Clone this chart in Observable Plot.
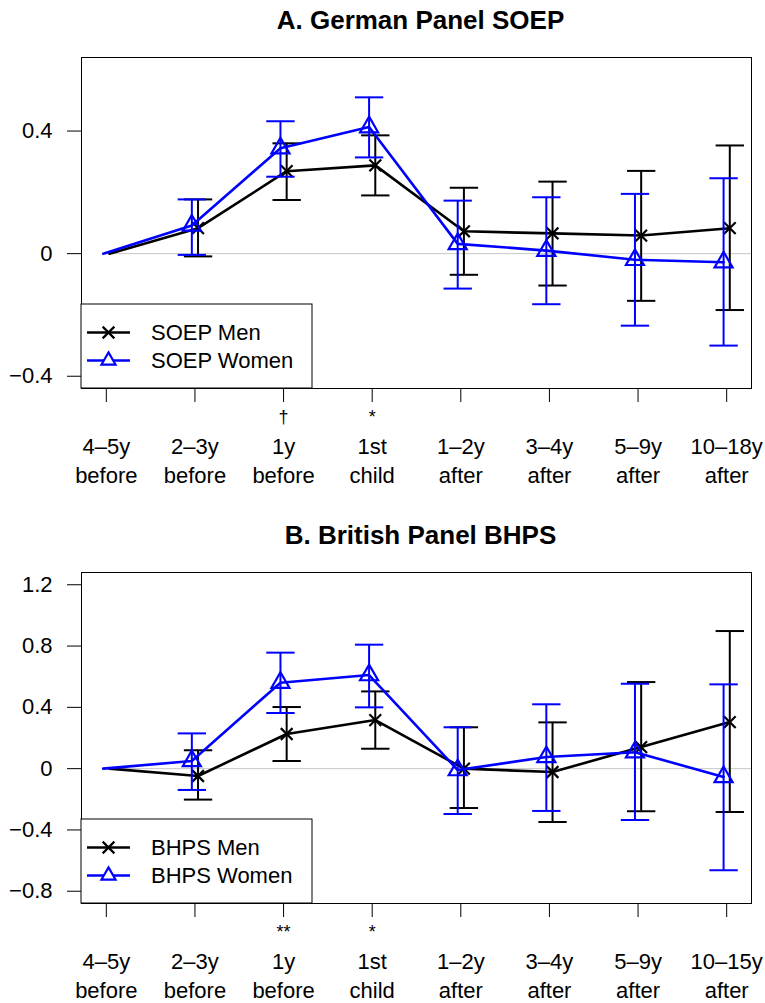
<!DOCTYPE html>
<html><head><meta charset="utf-8">
<script src="https://cdn.jsdelivr.net/npm/d3@7"></script>
<script src="https://cdn.jsdelivr.net/npm/@observablehq/plot@0.6"></script>
<style>body{margin:0;background:#fff} svg{display:block}</style>
</head><body><div id="chart"></div>
<script>
// Categories
const xPositions = [1, 2, 3, 4, 5, 6, 7, 8];
const labelsTopA = ["4–5y", "2–3y", "1y", "1st", "1–2y", "3–4y", "5–9y", "10–18y"];
const labelsTopB = ["4–5y", "2–3y", "1y", "1st", "1–2y", "3–4y", "5–9y", "10–15y"];
const labelsBottom = ["before", "before", "before", "child", "after", "after", "after", "after"];
const sigA = ["", "", "†", "*", "", "", "", ""];
const sigB = ["", "", "**", "*", "", "", "", ""];

// Panel A: SOEP
const soepMen    = [0, 0.083, 0.269, 0.288, 0.073, 0.066, 0.059, 0.083];
const soepMenLo  = [null, -0.009, 0.175, 0.190, -0.069, -0.104, -0.154, -0.184];
const soepMenHi  = [null, 0.177, 0.360, 0.386, 0.215, 0.235, 0.270, 0.353];
const soepWomen   = [0, 0.092, 0.344, 0.413, 0.032, 0.010, -0.020, -0.028];
const soepWomenLo = [null, -0.004, 0.251, 0.314, -0.114, -0.165, -0.235, -0.300];
const soepWomenHi = [null, 0.177, 0.432, 0.510, 0.173, 0.184, 0.195, 0.246];

// Panel B: BHPS
const bhpsMen    = [0, -0.048, 0.226, 0.317, 0.000, -0.022, 0.141, 0.304];
const bhpsMenLo  = [null, -0.202, 0.050, 0.130, -0.257, -0.348, -0.278, -0.283];
const bhpsMenHi  = [null, 0.120, 0.402, 0.504, 0.270, 0.302, 0.565, 0.898];
const bhpsWomen   = [0, 0.050, 0.561, 0.611, -0.009, 0.076, 0.107, -0.054];
const bhpsWomenLo = [null, -0.139, 0.363, 0.400, -0.296, -0.276, -0.335, -0.663];
const bhpsWomenHi = [null, 0.230, 0.757, 0.809, 0.270, 0.420, 0.554, 0.550];

const yTicksA = [-0.4, 0, 0.4];
const yTicksB = [-0.8, -0.4, 0, 0.4, 0.8, 1.2];

const FONT = "'Liberation Sans', Arial, Helvetica, sans-serif";
const BLUE = "#0000ff";
const xDomain = [0.72, 8.28];
const fmt = d => d === 0 ? "0" : d3.format(".1f")(d);

function panel(o) {
  const rows = (vals, lo, hi, off) => xPositions.map((x, i) => ({x: x + off, y: vals[i], lo: lo[i], hi: hi[i]}));
  const M = rows(o.men, o.menLo, o.menHi, 0.035);
  const W = rows(o.women, o.womenLo, o.womenHi, -0.035);
  const bars = d => d.filter(r => r.lo != null);
  const cap = 0.16;
  const seriesMarks = (D, color, symbol, r) => [
    Plot.ruleX(bars(D), {x: "x", y1: "lo", y2: "hi", stroke: color, strokeWidth: 2}),
    Plot.link(bars(D), {x1: d => d.x - cap, x2: d => d.x + cap, y1: "hi", y2: "hi", stroke: color, strokeWidth: 2}),
    Plot.link(bars(D), {x1: d => d.x - cap, x2: d => d.x + cap, y1: "lo", y2: "lo", stroke: color, strokeWidth: 2}),
    Plot.line(D, {x: "x", y: "y", stroke: color, strokeWidth: 2.6}),
    Plot.dot(D.slice(1), {x: "x", y: "y", symbol: symbol, r: r, stroke: color, strokeWidth: 2.2, fill: "none"})
  ];
  const svg = Plot.plot({
    width: 765,
    height: o.height,
    marginLeft: 81,
    marginRight: 14,
    marginTop: 57,
    marginBottom: o.marginBottom,
    style: {fontFamily: FONT, fontSize: "22px", color: "black", background: "white"},
    x: {domain: xDomain, axis: null},
    y: {domain: o.yDomain, axis: null},
    marks: [
      Plot.ruleY([0], {x1: xPositions[0], x2: xDomain[1], stroke: "#c8c8c8", strokeWidth: 1}),
      ...seriesMarks(M, "black", "times", 5.4),
      ...seriesMarks(W, BLUE, "triangle", 6.7),
      Plot.frame({stroke: "black", strokeWidth: 1}),
      Plot.axisY({ticks: o.yTicks, tickSize: 14, tickPadding: 15, tickFormat: fmt, fontSize: 22, label: null}),
      Plot.axisX({ticks: xPositions, tickSize: 14, tickFormat: () => "", label: null}),
      Plot.text(xPositions, {x: d => d, text: (d, i) => o.sig[i], frameAnchor: "bottom", dy: 34, lineAnchor: "bottom", fontSize: 18}),
      Plot.text(xPositions, {x: d => d, text: (d, i) => o.labelsTop[i], frameAnchor: "bottom", dy: 65, lineAnchor: "bottom", fontSize: 22}),
      Plot.text(xPositions, {x: d => d, text: (d, i) => labelsBottom[i], frameAnchor: "bottom", dy: 94, lineAnchor: "bottom", fontSize: 22}),
      Plot.text([o.title], {text: d => d, frameAnchor: "top", dx: 4, dy: -29, lineAnchor: "bottom", fontSize: 26, fontWeight: "bold"})
    ]
  });
  // Legend box (bottom-left inside the plot)
  const s = d3.select(svg);
  const g = s.append("g").attr("font-family", FONT).attr("font-size", 22).attr("text-anchor", "start");
  g.append("rect").attr("x", 81).attr("y", 304).attr("width", 231).attr("height", 84)
    .attr("fill", "white").attr("stroke", "black").attr("stroke-width", 1);
  const entries = [
    {name: o.menName, color: "black", sym: d3.symbolTimes, r: 5.4, y: 332.5, ty: 340},
    {name: o.womenName, color: BLUE, sym: d3.symbolTriangle2, r: 6.7, y: 360.5, ty: 368}
  ];
  for (const e of entries) {
    g.append("line").attr("x1", 87).attr("x2", 130).attr("y1", e.y).attr("y2", e.y)
      .attr("stroke", e.color).attr("stroke-width", 2.6);
    g.append("path").attr("d", d3.symbol(e.sym, e.r * e.r * Math.PI)())
      .attr("transform", `translate(108.5,${e.y})`)
      .attr("fill", e.color === BLUE ? "white" : "none").attr("stroke", e.color).attr("stroke-width", 2.2);
    g.append("text").attr("x", 151).attr("y", e.ty).attr("fill", "black").attr("text-anchor", "start").text(e.name);
  }
  return svg;
}

const chart = document.getElementById("chart");
chart.appendChild(panel({
  title: "A. German Panel SOEP", labelsTop: labelsTopA, sig: sigA,
  men: soepMen, menLo: soepMenLo, menHi: soepMenHi,
  women: soepWomen, womenLo: soepWomenLo, womenHi: soepWomenHi,
  yDomain: [-0.44, 0.64], yTicks: yTicksA, menName: "SOEP Men", womenName: "SOEP Women",
  height: 515, marginBottom: 127
}));
chart.appendChild(panel({
  title: "B. British Panel BHPS", labelsTop: labelsTopB, sig: sigB,
  men: bhpsMen, menLo: bhpsMenLo, menHi: bhpsMenHi,
  women: bhpsWomen, womenLo: bhpsWomenLo, womenHi: bhpsWomenHi,
  yDomain: [-0.88, 1.28], yTicks: yTicksB, menName: "BHPS Men", womenName: "BHPS Women",
  height: 488, marginBottom: 100
}));
</script>
</body></html>
